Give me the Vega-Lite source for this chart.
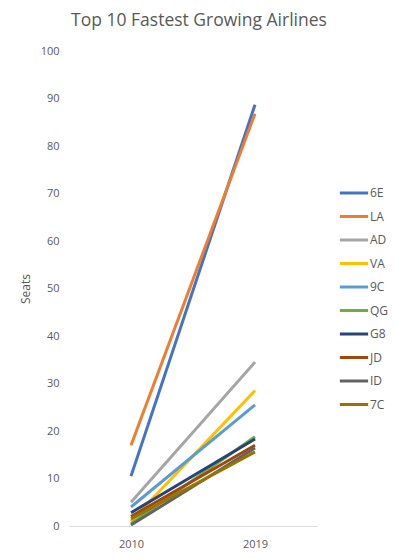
{
  "$schema": "https://vega.github.io/schema/vega-lite/v6.json",
  "autosize": "none",
  "width": 248,
  "height": 475,
  "padding": {"left": 69, "top": 51, "right": 81, "bottom": 33},
  "background": "white",
  "title": {
    "text": "Top 10 Fastest Growing Airlines",
    "font": "Open Sans",
    "fontSize": 17.5,
    "fontWeight": "normal",
    "color": "#595959",
    "anchor": "middle",
    "dx": 6,
    "offset": 16
  },
  "config": {
    "view": {"stroke": null},
    "font": "Open Sans"
  },
  "data": {
    "values": [
      {"airline": "6E", "year": "2010", "seats": 10.5},
      {"airline": "6E", "year": "2019", "seats": 88.7},
      {"airline": "LA", "year": "2010", "seats": 17},
      {"airline": "LA", "year": "2019", "seats": 86.8},
      {"airline": "AD", "year": "2010", "seats": 5},
      {"airline": "AD", "year": "2019", "seats": 34.5},
      {"airline": "VA", "year": "2010", "seats": 1},
      {"airline": "VA", "year": "2019", "seats": 28.5},
      {"airline": "9C", "year": "2010", "seats": 4},
      {"airline": "9C", "year": "2019", "seats": 25.5},
      {"airline": "QG", "year": "2010", "seats": 0.5},
      {"airline": "QG", "year": "2019", "seats": 18.8},
      {"airline": "G8", "year": "2010", "seats": 2.8},
      {"airline": "G8", "year": "2019", "seats": 18.3},
      {"airline": "JD", "year": "2010", "seats": 2},
      {"airline": "JD", "year": "2019", "seats": 17},
      {"airline": "ID", "year": "2010", "seats": 0.2},
      {"airline": "ID", "year": "2019", "seats": 16.4},
      {"airline": "7C", "year": "2010", "seats": 1.5},
      {"airline": "7C", "year": "2019", "seats": 15.6}
    ]
  },
  "mark": {"type": "line", "strokeWidth": 3},
  "encoding": {
    "x": {
      "field": "year",
      "type": "ordinal",
      "scale": {"type": "point", "padding": 0.5},
      "axis": {
        "title": null,
        "labelAngle": 0,
        "ticks": false,
        "domainColor": "#D9D9D9",
        "domainWidth": 1,
        "labelColor": "#595959",
        "labelFontSize": 11,
        "labelPadding": 12
      }
    },
    "y": {
      "field": "seats",
      "type": "quantitative",
      "scale": {"domain": [0, 100], "nice": false},
      "axis": {
        "title": "Seats",
        "titleFontWeight": "normal",
        "titleFontSize": 12,
        "titleColor": "#595959",
        "titlePadding": 8,
        "values": [0, 10, 20, 30, 40, 50, 60, 70, 80, 90, 100],
        "grid": false,
        "domain": false,
        "ticks": false,
        "labelColor": "#595959",
        "labelFontSize": 11,
        "labelPadding": 10
      }
    },
    "color": {
      "field": "airline",
      "type": "nominal",
      "sort": ["6E", "LA", "AD", "VA", "9C", "QG", "G8", "JD", "ID", "7C"],
      "scale": {
        "domain": ["6E", "LA", "AD", "VA", "9C", "QG", "G8", "JD", "ID", "7C"],
        "range": ["#4472C4", "#ED7D31", "#A5A5A5", "#FFC000", "#5B9BD5", "#70AD47", "#264478", "#9E480E", "#636363", "#997300"]
      },
      "legend": {
        "title": null,
        "orient": "none",
        "legendX": 269,
        "legendY": 132,
        "symbolType": "stroke",
        "symbolSize": 800,
        "symbolStrokeWidth": 3,
        "labelColor": "#595959",
        "labelFontSize": 12,
        "labelOffset": 0,
        "clipHeight": 20,
        "rowPadding": 3.5
      }
    }
  }
}
